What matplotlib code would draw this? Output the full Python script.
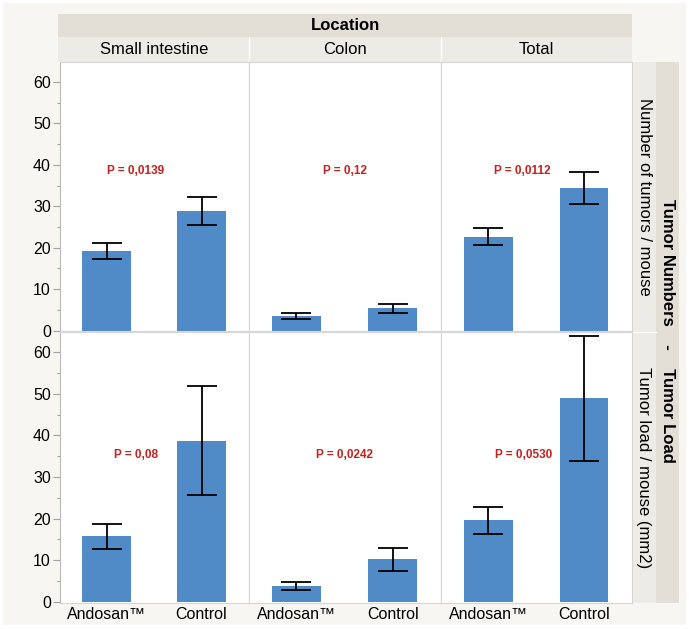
#!/usr/bin/env python3
"""Tumor numbers and tumor load per location, Andosan vs control (JMP-style grid)."""

import matplotlib
matplotlib.use("Agg")
import matplotlib.pyplot as plt
from matplotlib.patches import Rectangle
from matplotlib.ticker import MultipleLocator

W, H = 689, 629
DPI = 100

BAR = "#508AC7"
RED = "#C8201E"
GRID = "#D6D6D6"
BAND_DARK = "#E3DFD6"
BAND_LIGHT = "#EDEBE6"
PAGE = "#F7F6F3"

plt.rcParams.update({
    "font.family": ["Liberation Sans", "DejaVu Sans"],
})

# data
groups = ["Andosan™", "Control"]
locations = ["Small intestine", "Colon", "Total"]
row_titles = ["Number of tumors / mouse", "Tumor load / mouse (mm2)"]

numbers_mean = [[19.3, 28.9], [3.5, 5.4], [22.7, 34.4]]
numbers_sem = [[1.95, 3.35], [0.65, 1.15], [2.05, 3.95]]
load_mean = [[15.7, 38.7], [3.8, 10.2], [19.6, 48.9]]
load_sem = [[2.95, 13.1], [0.95, 2.75], [3.2, 15.0]]

numbers_p = ["P = 0,0139", "P = 0,12", "P = 0,0112"]
load_p = ["P = 0,08", "P = 0,0242", "P = 0,0530"]
numbers_p_pos = [(0.31, 38.5), (0.5, 38.5), (0.36, 38.5)]
load_p_pos = [(0.31, 35.2), (0.5, 35.2), (0.37, 35.2)]

YTICKS = [0, 10, 20, 30, 40, 50, 60]

# layout in pixels from top-left
COL_EDGES = [60, 249, 441, 632]
ROWS = [(61.5, 331.5), (332.0, 602.5)]


def px_rect(x0, y0, x1, y1):
    return [x0 / W, 1 - y1 / H, (x1 - x0) / W, (y1 - y0) / H]


def add_band(fig, x0, y0, x1, y1, color):
    fig.patches.append(Rectangle((x0 / W, 1 - y1 / H), (x1 - x0) / W, (y1 - y0) / H,
                                 transform=fig.transFigure, facecolor=color,
                                 edgecolor="none", zorder=-2))


def main():
    fig = plt.figure(figsize=(W / DPI, H / DPI), dpi=DPI)
    fig.patch.set_facecolor("white")
    add_band(fig, 3, 3, 686, 625, PAGE)

    # column header bands
    add_band(fig, 58, 14, 632, 37, BAND_DARK)
    add_band(fig, 58, 37, 632, 61.5, BAND_LIGHT)
    fig.text((58 + 632) / 2 / W, 1 - 25.5 / H, "Location", ha="center", va="center",
             fontsize=12, fontweight="bold")
    for j, name in enumerate(locations):
        cx = (COL_EDGES[j] + COL_EDGES[j + 1]) / 2
        fig.text(cx / W, 1 - 49.5 / H, name, ha="center", va="center", fontsize=12)
        if j > 0:
            fig.lines.append(plt.Line2D([COL_EDGES[j] / W] * 2, [1 - 37 / H, 1 - 61.5 / H],
                                        transform=fig.transFigure, color="white", lw=1.0,
                                        zorder=-1))

    # right strips
    add_band(fig, 632, 61.5, 656, 602.5, BAND_LIGHT)
    add_band(fig, 656, 61.5, 679, 602.5, BAND_DARK)
    fig.lines.append(plt.Line2D([632 / W, 656 / W], [1 - 332 / H] * 2,
                                transform=fig.transFigure, color="white", lw=1.0,
                                zorder=-1))
    for i, title in enumerate(row_titles):
        cy = (ROWS[i][0] + ROWS[i][1]) / 2
        fig.text(644 / W, 1 - cy / H, title, ha="center", va="center",
                 rotation=-90, fontsize=12)
    fig.text(667.5 / W, 1 - 331 / H, "Tumor Numbers    -    Tumor Load",
             ha="center", va="center", rotation=-90, fontsize=12, fontweight="bold")

    data = [(numbers_mean, numbers_sem, numbers_p, numbers_p_pos),
            (load_mean, load_sem, load_p, load_p_pos)]

    for i, (means, sems, ptxt, ppos) in enumerate(data):
        y0, y1 = ROWS[i]
        for j in range(3):
            ax = fig.add_axes(px_rect(COL_EDGES[j], y0, COL_EDGES[j + 1], y1))
            ax.set_facecolor("white")
            x = [0, 1]
            ax.bar(x, means[j], width=0.51, color=BAR, zorder=2)
            ax.errorbar(x, means[j], yerr=sems[j], fmt="none", ecolor="black",
                        elinewidth=1.3, capsize=11, capthick=1.3, zorder=3)
            ax.text(ppos[j][0], ppos[j][1], ptxt[j], ha="center", va="center",
                    fontsize=8.5, fontweight="bold", color=RED)
            ax.set_xlim(-0.49, 1.5)
            ax.set_ylim(-0.2, 64.9)
            ax.yaxis.set_major_locator(MultipleLocator(10))
            ax.yaxis.set_minor_locator(MultipleLocator(5))
            for spine in ax.spines.values():
                spine.set_color(GRID)
                spine.set_linewidth(0.8)
            if j == 0:
                ax.set_yticks(YTICKS)
                ax.spines["left"].set_color("#B8B8B8")
                ax.tick_params(axis="y", which="major", length=5, width=0.8,
                               color="#A0A0A0", labelsize=11.5, pad=1.5)
                ax.tick_params(axis="y", which="minor", length=2.5, width=0.8,
                               color="#A0A0A0")
            else:
                ax.tick_params(axis="y", which="both", left=False, labelleft=False)
            if i == 1:
                ax.set_xticks(x)
                ax.set_xticklabels(groups)
                ax.tick_params(axis="x", length=0, labelsize=11.5, pad=3)
            else:
                ax.set_xticks([])

    fig.savefig("out.png", dpi=DPI, facecolor=fig.get_facecolor())
    plt.close(fig)


if __name__ == "__main__":
    main()
